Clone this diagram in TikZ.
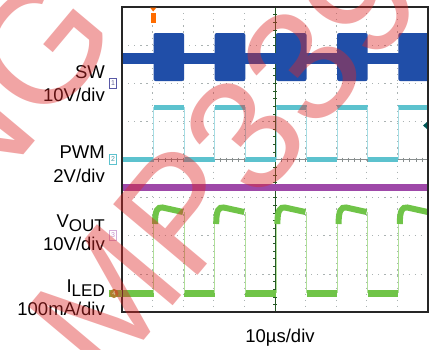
\documentclass[tikz,border=0pt]{standalone}
\usepackage{fontspec}
\setmainfont{Liberation Sans}
\definecolor{swblue}{RGB}{32,78,168}
\definecolor{pwmcyan}{RGB}{92,194,206}
\definecolor{vpurple}{RGB}{158,72,168}
\definecolor{igreen}{RGB}{112,196,72}
\definecolor{wmred}{RGB}{222,40,40}
\definecolor{gridgray}{RGB}{170,178,178}
\begin{document}
\begin{tikzpicture}[x=1pt,y=-1pt,
  lab/.style={font=\fontsize{18.5}{20}\selectfont, inner sep=0pt},
  griddot/.style={gridgray, line width=0.7, dash pattern=on 1.2pt off 4.9pt},
  chmark/.style={font=\fontsize{7}{7}\selectfont, inner sep=0.5pt, minimum width=7pt, minimum height=10pt, line width=0.5, fill=white}]
\useasboundingbox (0,0) rectangle (431,349);
\fill[white] (0,0) rectangle (431,349);
% grid
\foreach \i in {1,...,9} \draw[griddot] ({122+30.6*\i},7) -- ({122+30.6*\i},312);
\foreach \j in {1,...,7} \draw[griddot] (122,{7+38.125*\j}) -- (428,{7+38.125*\j});
\draw[gray!60!green!50!black, line width=0.6] (275,7) -- (275,312);
\foreach \k in {0,...,40} \draw[gray!60!green!50!black, line width=0.5] (273,{7+7.625*\k}) -- (277,{7+7.625*\k});
\draw[gridgray!80!black, line width=0.5] (122,159.5) -- (428,159.5);
\foreach \k in {0,...,50} \draw[gridgray!80!black, line width=0.5] ({122+6.12*\k},157.5) -- ({122+6.12*\k},161.5);
% traces
\begin{scope}
\clip (122,7) rectangle (428,312);
\fill[swblue] (122,52.5) rectangle (428,63.5);
\fill[pwmcyan] (122,156.5) rectangle (153.5,161.5);
\fill[vpurple] (122,183.5) rectangle (428,191);
\fill[igreen] (122,290) rectangle (153.5,296.5);
\foreach \s in {153.5,214.7,275.9,337.1,398.3} {
  \fill[swblue, rounded corners=2] (\s,33) rectangle ({\s+30.6},81);
  \fill[pwmcyan] (\s,104.5) rectangle ({\s+30.6},110);
  \fill[pwmcyan] ({\s+30.6},156.5) rectangle ({\s+61.2},161.5);
  \draw[pwmcyan!55, line width=0.7] (\s,107) -- (\s,159) ({\s+30.6},107) -- ({\s+30.6},159);
  \fill[igreen] ({\s+30.6},290) rectangle ({\s+61.2},296.5);
  \draw[igreen!55, line width=0.7] (\s,212) -- (\s,293) ({\s+30.6},212) -- ({\s+30.6},293);
  \draw[igreen, line width=6] ({\s+1.5},224) .. controls ({\s+1.5},210) and ({\s+4},207) .. ({\s+9},207.5) -- ({\s+29.5},212);
}
\end{scope}
% frame
\draw[black!85, line width=2.6] (122,7) rectangle (428,312);
% trigger markers
\fill[orange!85!red] (150.5,13) rectangle (156,23);
\fill[orange!85!red] (150,7.5) -- (156.5,7.5) -- (153.2,11.5) -- cycle;
\fill[teal!70!black] (423,125.5) -- (427,122) -- (427,129) -- cycle;
% channel markers
\node[chmark, draw=gray!70!blue, text=gray!80!blue] (m1) at (113,83) {1};
\node[chmark, draw=pwmcyan, text=pwmcyan!80!black] (m2) at (113,159.5) {2};
\node[chmark, draw=vpurple!45, text=vpurple!60] (m3) at (113,235) {3};
\fill[igreen] (109,290) rectangle (122,297);
\node[circle, fill=brown!70!olive, text=brown!40, inner sep=0.4pt, minimum size=9pt, font=\fontsize{6}{6}\selectfont] (m4) at (114,293.5) {4};
% labels
\node[lab, anchor=base east] (sw) at (105,78) {SW};
\node[lab, anchor=base east] (swdiv) at (105,101) {10V/div};
\node[lab, anchor=base east] (pwm) at (105,158) {PWM};
\node[lab, anchor=base east] (pwmdiv) at (105,182) {2V/div};
\node[lab, anchor=base east] (vout) at (105,227) {V\raisebox{-4pt}{\fontsize{17}{17}\selectfont OUT}};
\node[lab, anchor=base east] (voutdiv) at (105,250) {10V/div};
\node[lab, anchor=base east] (iled) at (105,292) {I\raisebox{-4pt}{\fontsize{17}{17}\selectfont LED}};
\node[lab, anchor=base east] (ileddiv) at (105,315) {100mA/div};
\node[lab, anchor=base] (tdiv) at (280,342) {10µs/div};
% watermark
\begin{scope}[opacity=0.42]
\clip (0,0) rectangle (431,349);
\node[text=wmred, font=\fontsize{160}{160}\selectfont, rotate=50, anchor=base west, inner sep=0pt] (wm1) at (104,388) {MP3394S};
\node[text=wmred, font=\fontsize{160}{160}\selectfont, rotate=50, anchor=base east, inner sep=0pt] (wm2) at (124,35) {NG};
\end{scope}
\end{tikzpicture}
\end{document}
